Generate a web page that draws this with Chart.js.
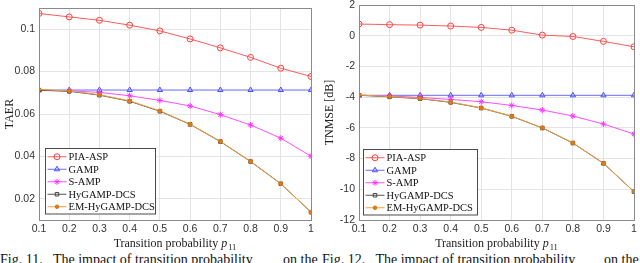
<!DOCTYPE html>
<html>
<head>
<meta charset="utf-8">
<script src="https://cdn.jsdelivr.net/npm/chart.js@4.4.0/dist/chart.umd.min.js"></script>
<style>
  body { margin: 0; background: #fff; width: 640px; height: 263px; overflow: hidden; position: relative; }
  canvas { position: absolute; top: 0; }
  #c1 { left: 0; }
  #c2 { left: 320px; }
  .cap { position: absolute; top: 252px; font-family: "Liberation Serif", serif; font-size: 14px; color: #111; white-space: nowrap; }
</style>
</head>
<body>
<canvas id="c1" width="320" height="250"></canvas>
<canvas id="c2" width="320" height="250"></canvas>
<div class="cap" style="left:0px">Fig. 11.&nbsp;&nbsp; The impact of transition probability</div>
<div class="cap" style="left:283px">on the</div>
<div class="cap" style="left:322px">Fig. 12.&nbsp;&nbsp; The impact of transition probability</div>
<div class="cap" style="left:604px">on the</div>
<script>
// transition probability p11
const p11 = [0.1, 0.2, 0.3, 0.4, 0.5, 0.6, 0.7, 0.8, 0.9, 1];
const xTicks = [0.1, 0.2, 0.3, 0.4, 0.5, 0.6, 0.7, 0.8, 0.9, 1];

// TAER (left figure)
const taerPIA   = [0.1074, 0.1058, 0.1042, 0.1019, 0.0992, 0.0954, 0.0912, 0.0867, 0.0816, 0.0777];
const taerGAMP  = [0.0713, 0.0713, 0.0713, 0.0713, 0.0713, 0.0713, 0.0713, 0.0713, 0.0713, 0.0713];
const taerSAMP  = [0.0713, 0.0709, 0.0702, 0.0686, 0.0664, 0.0638, 0.0597, 0.0548, 0.0486, 0.0401];
const taerHy    = [0.0712, 0.0707, 0.0689, 0.0660, 0.0613, 0.0551, 0.0470, 0.0376, 0.0271, 0.0137];
const taerEM    = [0.0716, 0.0709, 0.0691, 0.0662, 0.0615, 0.0552, 0.0471, 0.0377, 0.0271, 0.0137];
const taerTicks = [0.02, 0.04, 0.06, 0.08, 0.1];

// TNMSE in dB (right figure)
const nmsePIA   = [0.76, 0.72, 0.69, 0.63, 0.54, 0.36, 0.04, -0.05, -0.37, -0.72];
const nmseGAMP  = [-3.88, -3.88, -3.88, -3.88, -3.88, -3.88, -3.88, -3.88, -3.88, -3.88];
const nmseSAMP  = [-3.88, -3.92, -4.02, -4.15, -4.30, -4.54, -4.84, -5.23, -5.75, -6.40];
const nmseHy    = [-3.88, -3.98, -4.10, -4.34, -4.71, -5.25, -6.01, -6.99, -8.31, -10.16];
const nmseEM    = [-3.86, -3.96, -4.08, -4.32, -4.70, -5.24, -6.00, -6.98, -8.30, -10.15];
const nmseTicks = [-12, -10, -8, -6, -4, -2, 0, 2];

const names = ['PIA-ASP', 'GAMP', 'S-AMP', 'HyGAMP-DCS', 'EM-HyGAMP-DCS'];
const colors = ['#ff5c5c', '#6a6aff', '#ff4dff', '#555555', '#f0a040'];
const pointColors = ['#ff4040', '#4a4aff', '#ff33ff', '#444444', '#e07810'];
const styles = ['circle', 'triangle', 'star', 'rect', 'circle'];
const radii = [3, 3, 3, 2.5, 1.8];

function makeSets(series) {
  return series.map((vals, i) => ({
    label: names[i],
    data: p11.map((x, j) => ({ x: x, y: vals[j] })),
    order: names.length - 1 - i,
    borderColor: colors[i],
    borderWidth: 1,
    pointStyle: styles[i],
    pointRadius: radii[i],
    pointBorderColor: pointColors[i],
    pointBorderWidth: 1,
    pointBackgroundColor: i === 4 ? pointColors[i] : 'rgba(0,0,0,0)',
    fill: false,
    tension: 0
  }));
}

// frame + legend + x title drawn on the canvas
const extras = {
  id: 'extras',
  afterDatasetsDraw(chart, args, opts) {
    const ctx = chart.ctx, a = chart.chartArea;
    ctx.save();
    ctx.strokeStyle = '#8a8a8a';
    ctx.lineWidth = 1;
    ctx.strokeRect(Math.round(a.left) + 0.5, Math.round(a.top) + 0.5, Math.round(a.right - a.left), Math.round(a.bottom - a.top));

    // legend box
    const rowH = 12.5, w = opts.legendW, h = rowH * names.length + 3;
    const lx = Math.round(a.left + opts.legendDX) + 0.5;
    const ly = Math.round(a.bottom - opts.legendDY - h) + 0.5;
    ctx.fillStyle = '#fff';
    ctx.fillRect(lx, ly, w, h);
    ctx.strokeStyle = '#4a4a4a';
    ctx.strokeRect(lx, ly, w, h);
    ctx.textBaseline = 'middle';
    names.forEach((name, i) => {
      const ds = chart.data.datasets[i];
      const cy = ly + 2 + rowH * (i + 0.5);
      ctx.strokeStyle = ds.borderColor;
      ctx.lineWidth = 1;
      ctx.beginPath();
      ctx.moveTo(lx + 2, cy);
      ctx.lineTo(lx + 21, cy);
      ctx.stroke();
      ctx.fillStyle = ds.pointBackgroundColor;
      ctx.strokeStyle = ds.pointBorderColor;
      Chart.helpers.drawPoint(ctx, {
        pointStyle: ds.pointStyle, radius: ds.pointRadius, borderWidth: 1, rotation: 0
      }, lx + 11.5, cy);
      ctx.fillStyle = '#111';
      ctx.font = '10.5px "Liberation Serif"';
      ctx.fillText(name, lx + 23, cy + 0.5);
    });

    // x title: Transition probability p_11
    const t1 = 'Transition probability ';
    ctx.fillStyle = '#222';
    ctx.textBaseline = 'alphabetic';
    ctx.font = '12px "Liberation Serif"';
    const w1 = ctx.measureText(t1).width;
    ctx.font = 'italic 12px "Liberation Serif"';
    const w2 = ctx.measureText('p').width;
    ctx.font = '8.5px "Liberation Serif"';
    const w3 = ctx.measureText('11').width;
    let x = (a.left + a.right) / 2 - (w1 + w2 + w3 + 1) / 2;
    const by = a.bottom + 27;
    ctx.font = '12px "Liberation Serif"';
    ctx.fillText(t1, x, by);
    ctx.font = 'italic 12px "Liberation Serif"';
    ctx.fillText('p', x + w1, by);
    ctx.font = '8.5px "Liberation Serif"';
    ctx.fillText('11', x + w1 + w2 + 1, by + 2.5);
    ctx.restore();
  }
};

function makeChart(id, series, yMin, yMax, yTicks, yTitle, pad, legend) {
  return new Chart(document.getElementById(id), {
    type: 'line',
    data: { datasets: makeSets(series) },
    options: {
      responsive: false,
      devicePixelRatio: 1,
      animation: false,
      layout: { padding: pad },
      plugins: { legend: { display: false }, tooltip: { enabled: false }, extras: legend },
      scales: {
        x: {
          type: 'linear', min: 0.1, max: 1,
          afterBuildTicks: s => { s.ticks = xTicks.map(v => ({ value: v })); },
          afterFit: s => { s.height = 30; s.paddingLeft = 0; s.paddingRight = 0; },
          ticks: {
            callback: v => String(Number(v.toFixed(2))),
            font: { family: 'Liberation Sans', size: 10.5 }, color: '#333', padding: 3,
            maxRotation: 0, autoSkip: false
          },
          grid: { color: '#e4e4e4', drawTicks: false },
          border: { display: false }
        },
        y: {
          min: yMin, max: yMax,
          afterBuildTicks: s => { s.ticks = yTicks.map(v => ({ value: v })); },
          afterFit: s => { s.width = 39; s.paddingTop = 0; s.paddingBottom = 0; },
          ticks: {
            callback: v => String(Number(v.toFixed(3))),
            font: { family: 'Liberation Sans', size: 10.5 }, color: '#333', padding: 4
          },
          title: {
            display: true, text: yTitle,
            font: { family: 'Liberation Serif', size: 12 }, color: '#222', padding: { top: 3, bottom: 0 }
          },
          grid: { color: '#e4e4e4', drawTicks: false },
          border: { display: false }
        }
      }
    },
    plugins: [extras]
  });
}

makeChart('c1', [taerPIA, taerGAMP, taerSAMP, taerHy, taerEM], 0.01, 0.11, taerTicks, 'TAER',
  { left: 0, right: 9, top: 8, bottom: 0 }, { legendDX: 6, legendDY: 7, legendW: 110 });
makeChart('c2', [nmsePIA, nmseGAMP, nmseSAMP, nmseHy, nmseEM], -12, 2, nmseTicks, 'TNMSE [dB]',
  { left: 0, right: 6, top: 4, bottom: 0 }, { legendDX: 4, legendDY: 6, legendW: 114 });
</script>
</body>
</html>
